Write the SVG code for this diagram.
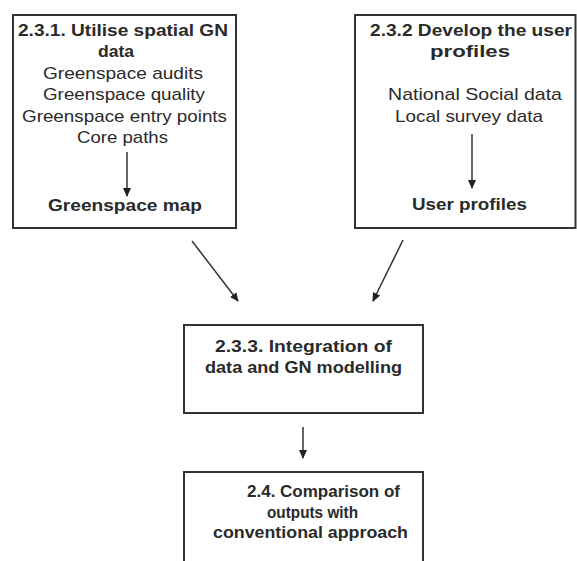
<svg xmlns="http://www.w3.org/2000/svg" width="577" height="561" viewBox="0 0 577 561">
  <style>
    .box { fill: #ffffff; stroke: #333333; stroke-width: 2; }
    .t { font-family: "Liberation Sans", Arial, sans-serif; font-size: 17px; fill: #2a2a2a; text-anchor: middle; }
    .b { font-weight: bold; }
    .conn { stroke: #333333; stroke-width: 1.5; fill: none; marker-end: url(#arr); }
  </style>
  <defs>
    <marker id="arr" markerUnits="userSpaceOnUse" markerWidth="9" markerHeight="8" refX="8" refY="4" orient="auto">
      <path d="M0,0 L9,4 L0,8 z" fill="#222222"/>
    </marker>
  </defs>
  <rect x="0" y="0" width="577" height="561" fill="#ffffff"/>

  <g id="node-231">
    <rect class="box" x="13" y="15" width="223" height="213"/>
    <text class="t b" x="123" y="36" textLength="210" lengthAdjust="spacingAndGlyphs">2.3.1. Utilise spatial GN</text>
    <text class="t b" x="116" y="57" textLength="36" lengthAdjust="spacingAndGlyphs">data</text>
    <text class="t" x="123" y="79" textLength="160" lengthAdjust="spacingAndGlyphs">Greenspace audits</text>
    <text class="t" x="124" y="100" textLength="162" lengthAdjust="spacingAndGlyphs">Greenspace quality</text>
    <text class="t" x="124.5" y="122" textLength="205" lengthAdjust="spacingAndGlyphs">Greenspace entry points</text>
    <text class="t" x="122.5" y="143" textLength="91" lengthAdjust="spacingAndGlyphs">Core paths</text>
    <line class="conn" x1="127" y1="152" x2="127" y2="196"/>
    <text class="t b" x="125" y="211" textLength="154" lengthAdjust="spacingAndGlyphs">Greenspace map</text>
  </g>

  <g id="node-232">
    <rect class="box" x="355" y="15" width="220.5" height="213"/>
    <text class="t b" x="471" y="36" textLength="202" lengthAdjust="spacingAndGlyphs">2.3.2 Develop the user</text>
    <text class="t b" x="470" y="57" textLength="80" lengthAdjust="spacingAndGlyphs">profiles</text>
    <text class="t" x="475" y="100" textLength="174" lengthAdjust="spacingAndGlyphs">National Social data</text>
    <text class="t" x="469" y="122" textLength="148" lengthAdjust="spacingAndGlyphs">Local survey data</text>
    <line class="conn" x1="472" y1="134" x2="472" y2="188"/>
    <text class="t b" x="469.5" y="210" textLength="115" lengthAdjust="spacingAndGlyphs">User profiles</text>
  </g>

  <g id="node-233">
    <rect class="box" x="184" y="325" width="239" height="88"/>
    <text class="t b" x="303.5" y="352" textLength="177" lengthAdjust="spacingAndGlyphs">2.3.3. Integration of</text>
    <text class="t b" x="303.5" y="373" textLength="197" lengthAdjust="spacingAndGlyphs">data and GN modelling</text>
  </g>

  <g id="node-24">
    <rect class="box" x="184" y="472" width="239" height="110"/>
    <text class="t b" x="323.5" y="497" textLength="153" lengthAdjust="spacingAndGlyphs">2.4. Comparison of</text>
    <text class="t b" x="312.5" y="518" textLength="91" lengthAdjust="spacingAndGlyphs">outputs with</text>
    <text class="t b" x="310.5" y="538" textLength="195" lengthAdjust="spacingAndGlyphs">conventional approach</text>
  </g>

  <g id="connectors">
    <line class="conn" x1="192" y1="241" x2="238" y2="301"/>
    <line class="conn" x1="403" y1="240" x2="373" y2="301"/>
    <line class="conn" x1="303" y1="427" x2="303" y2="458"/>
  </g>
</svg>
